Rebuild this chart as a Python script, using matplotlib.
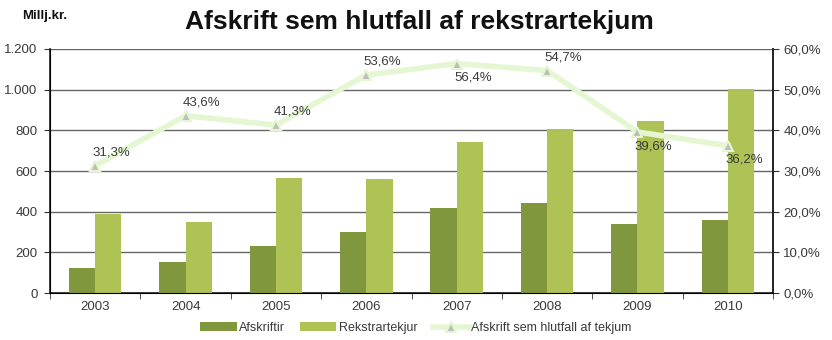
import matplotlib.pyplot as plt
import numpy as np

plt.rcParams["font.family"] = ["Liberation Sans", "DejaVu Sans"]

years = ["2003", "2004", "2005", "2006", "2007", "2008", "2009", "2010"]
afskriftir = [123, 152, 231, 300, 418, 443, 339, 359]
rekstrartekjur = [390, 349, 565, 562, 742, 807, 846, 1003]
hlutfall = [31.3, 43.6, 41.3, 53.6, 56.4, 54.7, 39.6, 36.2]
# label placement for the percentage annotations: above or below the point
label_pos = ["above", "above", "above", "above", "below", "above", "below", "below"]

dark_green = "#81973e"
light_green = "#aec256"
line_green = "#e4f7d2"
text_col = "#3a3a3a"

fig = plt.figure(figsize=(8.32, 3.40), dpi=100)
ax = fig.add_axes([0.0601, 0.138, 0.869, 0.718])

x = np.arange(len(years))
w = 0.29
b1 = ax.bar(x - w / 2, afskriftir, w, color=dark_green, label="Afskriftir", zorder=3)
b2 = ax.bar(x + w / 2, rekstrartekjur, w, color=light_green, label="Rekstrartekjur", zorder=3)

ax.set_xlim(-0.5, len(years) - 0.5)
ax.set_ylim(0, 1200)
ax.set_yticks(range(0, 1201, 200))
ax.set_yticklabels(["0", "200", "400", "600", "800", "1.000", "1.200"])
ax.set_xticks(x)
ax.set_xticklabels(years)
ax.set_xticks(np.arange(-0.5, len(years)), minor=True)
ax.tick_params(axis="x", which="major", length=0, pad=6)
ax.tick_params(axis="x", which="minor", length=4, direction="out", color="#333333")
ax.tick_params(axis="y", length=4, color="#333333", pad=5)
ax.tick_params(labelsize=9.5, labelcolor=text_col)
ax.yaxis.grid(True, color="#666666", linewidth=1, zorder=1)
ax.set_axisbelow(True)
ax.spines["top"].set_visible(False)
for s in ["left", "right", "bottom"]:
    ax.spines[s].set_color("#222222")
    ax.spines[s].set_linewidth(1.2)

ax2 = ax.twinx()
ax2.set_ylim(0, 60)
ax2.set_yticks(range(0, 61, 10))
ax2.set_yticklabels([f"{v},0%" for v in range(0, 61, 10)])
ax2.tick_params(axis="y", length=4, color="#333333", labelsize=9.5, labelcolor=text_col)
ax2.spines["top"].set_visible(False)
ax2.spines["right"].set_color("#222222")
ax2.spines["right"].set_linewidth(1.2)

(ln,) = ax2.plot(x, hlutfall, color=line_green, linewidth=4, marker="^",
                 markersize=7, markerfacecolor="#bdbdbd", markeredgecolor=line_green,
                 markeredgewidth=1.5, label="Afskrift sem hlutfall af tekjum", zorder=4)

for xi, v, pos in zip(x, hlutfall, label_pos):
    txt = f"{v:.1f}".replace(".", ",") + "%"
    dy = 1.8 if pos == "above" else -2.0
    va = "bottom" if pos == "above" else "top"
    ax2.text(xi - 0.03, v + dy, txt, ha="left", va=va, fontsize=9.5,
             color=text_col, zorder=6)

fig.text(0.504, 0.935, "Afskrift sem hlutfall af rekstrartekjum", ha="center",
         va="center", fontsize=19, fontweight="bold", color="#111111")
fig.text(0.027, 0.953, "Millj.kr.", ha="left", va="center", fontsize=9.5,
         fontweight="bold", color="#111111")

fig.legend(handles=[b1, b2, ln], loc="center", bbox_to_anchor=(0.5, 0.035), ncol=3,
           frameon=False, fontsize=9, handlelength=2.9, handleheight=0.75,
           columnspacing=1.2, handletextpad=0.2, labelcolor=text_col)

fig.savefig("out.png", dpi=100)
